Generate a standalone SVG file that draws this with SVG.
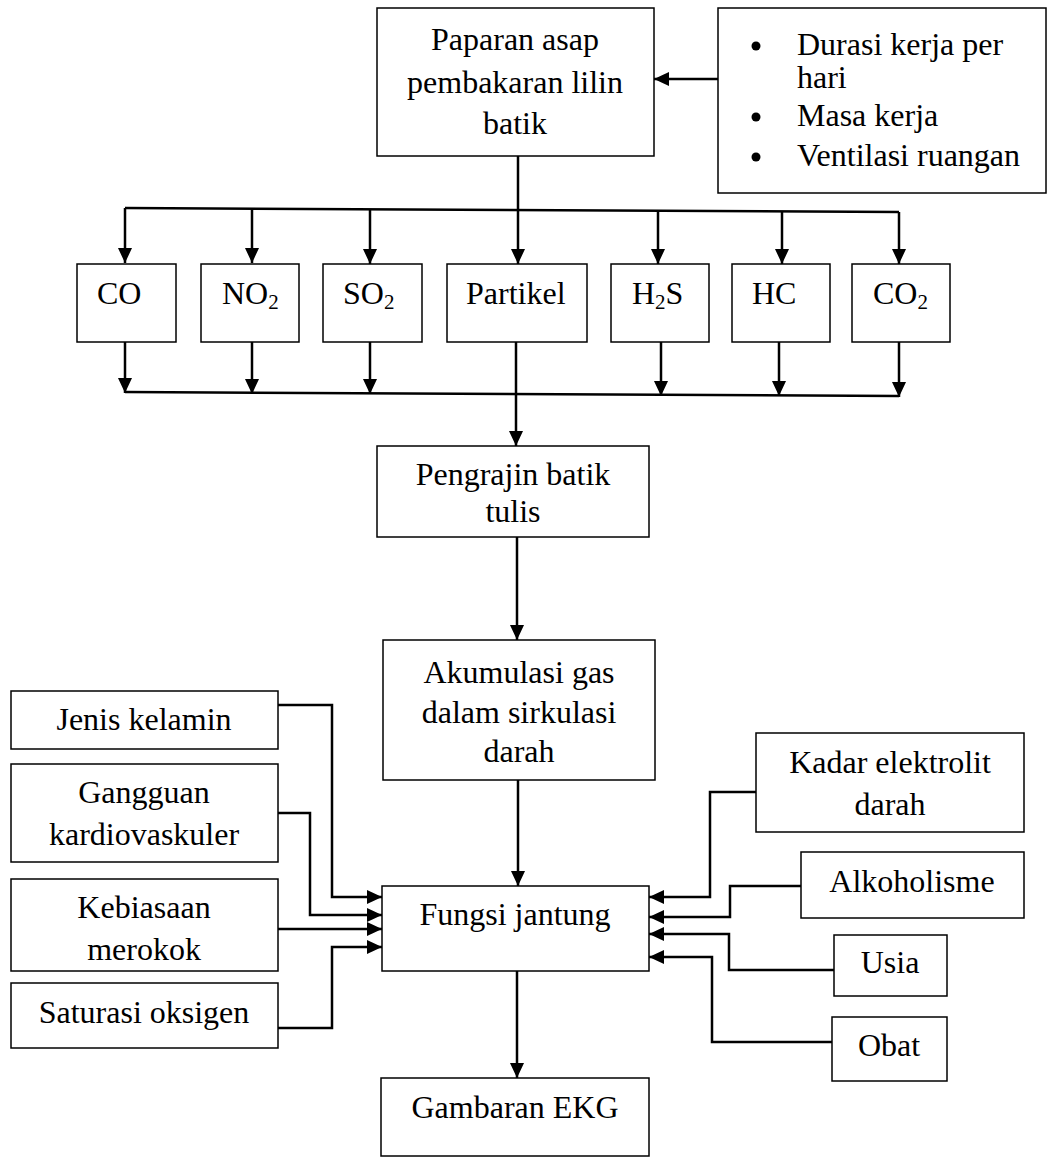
<svg xmlns="http://www.w3.org/2000/svg" width="1049" height="1157" viewBox="0 0 1049 1157">
<style>
.box{fill:#fff;stroke:#000;stroke-width:1.5}
.t{font-family:"Liberation Serif","Times New Roman",serif;font-size:32px;fill:#000}
.c{text-anchor:middle}
.sub{font-size:21px}
.ln{fill:none;stroke:#000;stroke-width:2.5}
</style>
<defs>
<marker id="ah" markerUnits="userSpaceOnUse" markerWidth="16" markerHeight="14" refX="15" refY="7" orient="auto">
<path d="M0,0 L15,7 L0,14 z" fill="#000"/>
</marker>
</defs>
<rect width="1049" height="1157" fill="#fff"/>
<g id="connectors">
<path class="ln" d="M718,79 H654" marker-end="url(#ah)"/>
<path class="ln" d="M518,156 V264" marker-end="url(#ah)"/>
<path class="ln" d="M125,208 L899,212"/>
<path class="ln" d="M125,208 V263" marker-end="url(#ah)"/>
<path class="ln" d="M252,209 V263" marker-end="url(#ah)"/>
<path class="ln" d="M370,209 V264" marker-end="url(#ah)"/>
<path class="ln" d="M658,211 V264" marker-end="url(#ah)"/>
<path class="ln" d="M782,211 V264" marker-end="url(#ah)"/>
<path class="ln" d="M899,212 V264" marker-end="url(#ah)"/>
<path class="ln" d="M125,342 V393" marker-end="url(#ah)"/>
<path class="ln" d="M252,342 V394" marker-end="url(#ah)"/>
<path class="ln" d="M370,342 V394" marker-end="url(#ah)"/>
<path class="ln" d="M661,342 V396" marker-end="url(#ah)"/>
<path class="ln" d="M779,342 V396" marker-end="url(#ah)"/>
<path class="ln" d="M899,342 V397" marker-end="url(#ah)"/>
<path class="ln" d="M125,392 L899,396"/>
<path class="ln" d="M516,342 V446" marker-end="url(#ah)"/>
<path class="ln" d="M517,537 V640" marker-end="url(#ah)"/>
<path class="ln" d="M518,780 V886" marker-end="url(#ah)"/>
<path class="ln" d="M517,971 V1078" marker-end="url(#ah)"/>
<path class="ln" d="M278,705 H332 V897 H382" marker-end="url(#ah)"/>
<path class="ln" d="M278,813 H310 V915 H382" marker-end="url(#ah)"/>
<path class="ln" d="M278,929 H382" marker-end="url(#ah)"/>
<path class="ln" d="M278,1028 H332 V947 H382" marker-end="url(#ah)"/>
<path class="ln" d="M756,792 H710 V897 H649" marker-end="url(#ah)"/>
<path class="ln" d="M801,886 H730 V917 H649" marker-end="url(#ah)"/>
<path class="ln" d="M834,970 H729 V934 H649" marker-end="url(#ah)"/>
<path class="ln" d="M832,1042 H712 V957 H649" marker-end="url(#ah)"/>
</g>
<g id="paparan">
<rect class="box" x="377" y="8" width="277" height="148"/>
<text class="t c" x="515" y="50">Paparan asap</text>
<text class="t c" x="515" y="93">pembakaran lilin</text>
<text class="t c" x="515" y="134">batik</text>
</g>
<g id="faktor-paparan">
<rect class="box" x="718" y="8" width="328" height="185"/>
<circle cx="756" cy="46" r="4.5"/>
<circle cx="756" cy="117" r="4.5"/>
<circle cx="756" cy="157" r="4.5"/>
<text class="t" x="797" y="55">Durasi kerja per</text>
<text class="t" x="797" y="88">hari</text>
<text class="t" x="797" y="126">Masa kerja</text>
<text class="t" x="797" y="166">Ventilasi ruangan</text>
</g>
<g id="co">
<rect class="box" x="77" y="264" width="99" height="78"/>
<text class="t" x="97" y="304">CO</text>
</g>
<g id="no2">
<rect class="box" x="201" y="264" width="98" height="78"/>
<text class="t" x="222" y="304">NO<tspan class="sub" dy="5">2</tspan></text>
</g>
<g id="so2">
<rect class="box" x="323" y="264" width="99" height="78"/>
<text class="t" x="343" y="304">SO<tspan class="sub" dy="5">2</tspan></text>
</g>
<g id="partikel">
<rect class="box" x="447" y="264" width="140" height="78"/>
<text class="t" x="466" y="304">Partikel</text>
</g>
<g id="h2s">
<rect class="box" x="611" y="264" width="98" height="78"/>
<text class="t" x="632" y="304">H<tspan class="sub" dy="5">2</tspan><tspan dy="-5">S</tspan></text>
</g>
<g id="hc">
<rect class="box" x="732" y="264" width="98" height="78"/>
<text class="t" x="752" y="304">HC</text>
</g>
<g id="co2">
<rect class="box" x="852" y="264" width="98" height="78"/>
<text class="t" x="873" y="304">CO<tspan class="sub" dy="5">2</tspan></text>
</g>
<g id="pengrajin">
<rect class="box" x="377" y="446" width="272" height="91"/>
<text class="t c" x="513" y="485">Pengrajin batik</text>
<text class="t c" x="513" y="522">tulis</text>
</g>
<g id="akumulasi">
<rect class="box" x="383" y="640" width="272" height="140"/>
<text class="t c" x="519" y="683">Akumulasi gas</text>
<text class="t c" x="519" y="723">dalam sirkulasi</text>
<text class="t c" x="519" y="762">darah</text>
</g>
<g id="fungsi-jantung">
<rect class="box" x="382" y="886" width="267" height="85"/>
<text class="t c" x="515" y="925">Fungsi jantung</text>
</g>
<g id="gambaran-ekg">
<rect class="box" x="381" y="1078" width="268" height="78"/>
<text class="t c" x="515" y="1118">Gambaran EKG</text>
</g>
<g id="jenis-kelamin">
<rect class="box" x="11" y="691" width="267" height="58"/>
<text class="t c" x="144" y="730">Jenis kelamin</text>
</g>
<g id="gangguan">
<rect class="box" x="11" y="764" width="267" height="98"/>
<text class="t c" x="144" y="803">Gangguan</text>
<text class="t c" x="144" y="845">kardiovaskuler</text>
</g>
<g id="kebiasaan">
<rect class="box" x="11" y="879" width="267" height="92"/>
<text class="t c" x="144" y="918">Kebiasaan</text>
<text class="t c" x="144" y="960">merokok</text>
</g>
<g id="saturasi">
<rect class="box" x="11" y="983" width="267" height="65"/>
<text class="t c" x="144" y="1023">Saturasi oksigen</text>
</g>
<g id="kadar">
<rect class="box" x="756" y="733" width="268" height="99"/>
<text class="t c" x="890" y="773">Kadar elektrolit</text>
<text class="t c" x="890" y="815">darah</text>
</g>
<g id="alkoholisme">
<rect class="box" x="801" y="852" width="223" height="66"/>
<text class="t c" x="912" y="892">Alkoholisme</text>
</g>
<g id="usia">
<rect class="box" x="834" y="935" width="113" height="61"/>
<text class="t c" x="890" y="973">Usia</text>
</g>
<g id="obat">
<rect class="box" x="832" y="1017" width="115" height="64"/>
<text class="t c" x="889" y="1056">Obat</text>
</g>
</svg>
